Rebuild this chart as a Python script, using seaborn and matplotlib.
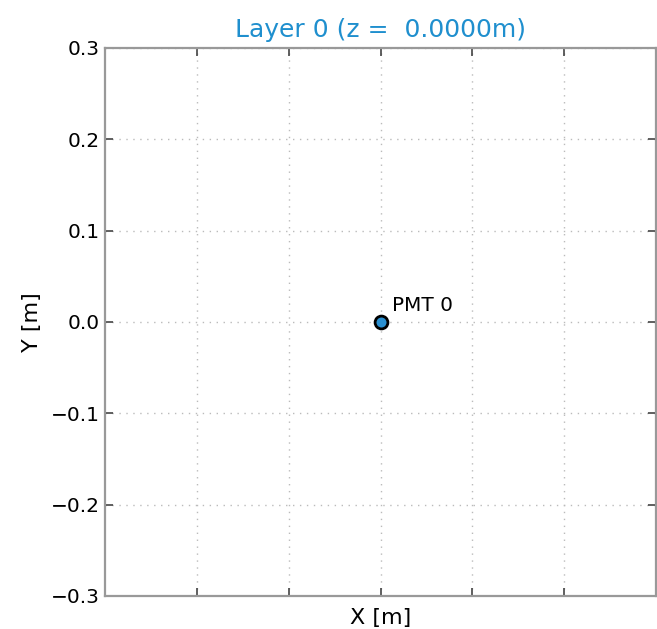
import matplotlib
matplotlib.use("Agg")
import matplotlib.pyplot as plt
import seaborn as sns
import pandas as pd

pmt_x = [0.0]
pmt_y = [0.0]
pmt_labels = ["PMT 0"]
layer_z = 0.0
yticks = [-0.3, -0.2, -0.1, 0.0, 0.1, 0.2, 0.3]
xticks = [-0.2, -0.1, 0.0, 0.1, 0.2]

sns.set_theme(style="ticks")
plt.rcParams['font.family'] = ['DejaVu Sans']

df = pd.DataFrame({"x": pmt_x, "y": pmt_y, "label": pmt_labels})

fig = plt.figure(figsize=(6.57, 6.29), dpi=100)
ax = fig.add_axes([0.160, 0.0525, 0.8385, 0.8712])

ax.grid(True, linestyle=(0, (1, 4)), color="#bbbbbb", linewidth=1.0)
sns.scatterplot(data=df, x="x", y="y", ax=ax, s=85, color="#2a8fd0",
                edgecolor="black", linewidth=2.0, zorder=3, legend=False)
for _, r in df.iterrows():
    ax.annotate(r["label"], (r["x"], r["y"]), xytext=(8, 8), textcoords="offset points",
                fontsize=14.4, color="black")

ax.set_xlim(-0.3, 0.3)
ax.set_ylim(-0.3, 0.3)
ax.set_xticks(xticks)
ax.set_xticklabels([])
ax.set_yticks(yticks)
ax.set_yticklabels([f"{v:.1f}".replace("-", "\u2212") for v in yticks])
ax.tick_params(direction="in", top=True, right=True, length=6, width=1.2,
               color="#444444", labelsize=14.5, labelcolor="black", pad=4)
for s in ax.spines.values():
    s.set_color("#999999")
    s.set_linewidth(1.6)
ax.set_xlabel("X [m]", fontsize=16, labelpad=5, color="black")
ax.set_ylabel("Y [m]", fontsize=16, labelpad=6, color="black")
ax.set_title(f"Layer 0 (z = {layer_z:7.4f}m)", color="#1f8fce", fontsize=18, pad=8)

fig.savefig("out.png", dpi=100)
